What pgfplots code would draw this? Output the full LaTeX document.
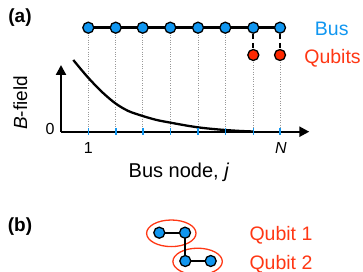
\documentclass[border=0pt]{standalone}
\usepackage{pgfplots}
\pgfplotsset{compat=1.18}
\usepackage{fontspec}
\setmainfont{Liberation Sans}
\usetikzlibrary{arrows.meta}
\definecolor{busblue}{RGB}{16,150,240}
\definecolor{qred}{RGB}{255,40,0}
\definecolor{tred}{RGB}{255,55,20}
\tikzset{
  lab/.style={font=\fontsize{19.5}{23}\selectfont, inner sep=0pt},
  tl/.style={font=\fontsize{16}{19}\selectfont, inner sep=0pt},
}
\begin{document}
\begin{tikzpicture}
\begin{axis}[
  at={(0,0)}, anchor=south west,
  width=363pt, height=272pt, scale only axis,
  xmin=0, xmax=363, ymin=0, ymax=272, y dir=reverse,
  axis lines=none, clip=false,
  unbounded coords=jump,
]
% dotted guides
\addplot[gray!80, line width=0.8pt, dash pattern=on 0.8pt off 1.6pt] coordinates {
 (88.3,27.7) (88.3,131.7) (88.3,inf)
 (115.7,27.7) (115.7,131.7) (115.7,inf)
 (142.7,27.7) (142.7,131.7) (142.7,inf)
 (170.3,27.7) (170.3,131.7) (170.3,inf)
 (198,27.7) (198,131.7) (198,inf)
 (225.3,27.7) (225.3,131.7) (225.3,inf)
 (253.3,55) (253.3,131.7) (253.3,inf)
 (280,55) (280,131.7)
};
% decay curve
\addplot[black, line width=2.3pt, smooth] coordinates {
 (73.3,60) (87.3,76.7) (101.7,91.7) (115.3,103.3) (128.3,111) (142.7,116)
 (156.7,120) (170.7,122.7) (185,125.3) (197.7,127.3) (211,128.8) (225,130)
 (239,130.9) (253,131.5)
};
% axes
\addplot[black, line width=2.3pt, -{Triangle[length=10pt,width=10pt]}] coordinates {(61,131.7) (61,65)};
\addplot[black, line width=2.3pt, -{Triangle[length=10pt,width=10pt]}] coordinates {(61,131.7) (309.3,131.7)};
% blue ticks
\addplot[busblue, only marks, mark=|, mark size=3.5pt, mark options={line width=1.6pt}] coordinates {
 (88.3,131.7) (115.7,131.7) (142.7,131.7) (170.3,131.7) (198,131.7) (225.3,131.7) (253.3,131.7) (280,131.7)
};
% dashed couplers
\addplot[black, line width=2.2pt, dash pattern=on 5pt off 4pt] coordinates {(253.3,34) (253.3,50) (253.3,inf) (280,34) (280,50)};
% bus chain
\addplot[black, line width=2.4pt, mark=*, mark size=5.5pt, mark options={solid, fill=busblue, draw=black, line width=1.3pt}] coordinates {
 (88.3,27.7) (115.7,27.7) (142.7,27.7) (170.3,27.7) (198,27.7) (225.3,27.7) (253.3,27.7) (280,27.7)
};
% qubits
\addplot[only marks, mark=*, mark size=5.5pt, mark options={fill=qred, draw=black, line width=1.3pt}] coordinates {(253.3,55) (280,55)};
% panel b
\draw[tred, line width=1.3pt] (axis cs:171.3,233.3) ellipse [x radius=24.7pt, y radius=13.3pt];
\draw[tred, line width=1.3pt] (axis cs:197.6,261.5) ellipse [x radius=24.7pt, y radius=13.3pt];
\addplot[black, line width=1.3pt] coordinates {(185,232.7) (185,261)};
\addplot[black, line width=2.4pt, mark=*, mark size=5.5pt, mark options={solid, fill=busblue, draw=black, line width=1.3pt}] coordinates {
 (159.3,232.7) (185,232.7) (185,inf) (185.3,261) (210.7,261)
};
% texts
\node[lab, font=\fontsize{19}{23}\selectfont\bfseries, anchor=base] at (axis cs:20,22.7) {(a)};
\node[lab, font=\fontsize{19}{23}\selectfont\bfseries, anchor=base] at (axis cs:20,231) {(b)};
\node[lab, text=busblue, anchor=base] at (axis cs:331.7,35.5) {Bus};
\node[lab, text=tred, anchor=base] at (axis cs:332.5,64) {Qubits};
\node[lab, font=\fontsize{20}{24}\selectfont, anchor=base] at (axis cs:179,177.5) {Bus node, \textit{j}};
\node[lab, font=\fontsize{19}{23}\selectfont, anchor=base, rotate=90] at (axis cs:27,103) {\textit{B}-field};
\node[tl, anchor=base] at (axis cs:50,135) {0};
\node[tl, anchor=base] at (axis cs:88.3,153.3) {1};
\node[tl, anchor=base] at (axis cs:280.8,153.3) {\textit{N}};
\node[lab, text=tred, anchor=base west] at (axis cs:249.3,240.7) {Qubit 1};
\node[lab, text=tred, anchor=base west] at (axis cs:249.3,269) {Qubit 2};
\end{axis}
\pgfresetboundingbox
\path (0,0) rectangle (363pt,272pt);
\end{tikzpicture}
\end{document}
